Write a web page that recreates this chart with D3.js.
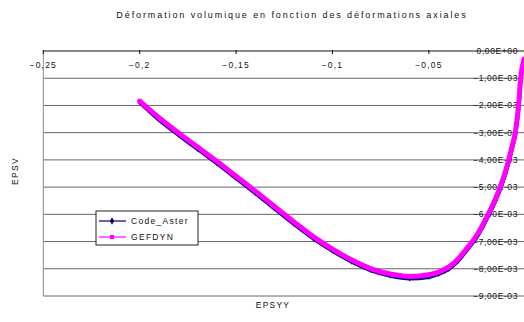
<!DOCTYPE html>
<html>
<head>
<meta charset="utf-8">
<script src="https://cdn.jsdelivr.net/npm/d3@7"></script>
<style>
  body { margin: 0; background: #fff; }
  text { font-family: "Liberation Sans", Arial, sans-serif; fill: #111; }
</style>
</head>
<body>
<svg id="chart" width="524" height="322"></svg>
<script>
(function () {

    // axial strain (EPSYY) and volumic strain (EPSV, x1e-3)
    const epsyy = [-0.200, -0.190, -0.180, -0.170, -0.160, -0.150, -0.140, -0.130, -0.120, -0.110,
        -0.100, -0.090, -0.080, -0.070, -0.060, -0.050, -0.045, -0.040, -0.035, -0.030,
        -0.025, -0.020, -0.015, -0.010, -0.007, -0.005, -0.0035, -0.0024, -0.0007];

    const gefdyn = [-1.84, -2.45, -3.00, -3.53, -4.05, -4.60, -5.15, -5.72, -6.28, -6.82,
        -7.28, -7.68, -8.00, -8.19, -8.28, -8.22, -8.12, -7.95, -7.65, -7.22,
        -6.75, -6.10, -5.35, -4.35, -3.55, -2.90, -2.00, -1.00, -0.30];

    const codeAster = [-1.88, -2.52, -3.07, -3.60, -4.12, -4.67, -5.22, -5.79, -6.35, -6.88,
        -7.34, -7.74, -8.06, -8.26, -8.36, -8.30, -8.19, -8.02, -7.72, -7.28,
        -6.82, -6.17, -5.42, -4.43, -3.62, -2.97, -2.06, -1.06, -0.36];

    const xTicks = [-0.25, -0.2, -0.15, -0.1, -0.05];
    const yTicks = [0, -0.001, -0.002, -0.003, -0.004, -0.005, -0.006, -0.007, -0.008, -0.009];

    const series = [
        { name: "Code_Aster", color: "#000080", values: codeAster, marker: d3.symbolDiamond },
        { name: "GEFDYN", color: "#ff00ff", values: gefdyn, marker: d3.symbolSquare }
    ];

    const svg = d3.select('#chart');

    const x = d3.scaleLinear().domain([-0.25, 0]).range([43.3, 525.3]);
    const y = d3.scaleLinear().domain([-0.009, 0]).range([296, 51]);

    // excel style 0,00E+00
    const sci = v => {
        const s = d3.format(".2e")(v);
        const [m, e] = s.split("e");
        const sign = e[0] === "-" ? "-" : "+";
        const digits = e.replace(/[+-]/, "").padStart(2, "0");
        return m.replace(".", ",") + "E" + sign + digits;
    };

    svg.append('text')
        .attr('x', 292).attr('y', 18)
        .attr('text-anchor', 'middle')
        .style('font-size', '9px')
        .style('letter-spacing', '1.9px')
        .text('Déformation volumique en fonction des déformations axiales');

    // gridlines
    svg.append('g')
        .selectAll('line')
        .data(yTicks.slice(1))
        .enter()
        .append('line')
        .attr('x1', x(-0.25)).attr('x2', 524)
        .attr('y1', d => y(d)).attr('y2', d => y(d))
        .attr('stroke', '#666');

    // left border
    svg.append('line')
        .attr('x1', x(-0.25)).attr('x2', x(-0.25))
        .attr('y1', y(0)).attr('y2', y(-0.009))
        .attr('stroke', '#8a8a8a');

    // x axis at top (y = 0)
    const xAxis = svg.append('g').attr('transform', `translate(0,${y(0)})`);
    xAxis.append('line')
        .attr('x1', x(-0.25)).attr('x2', 524)
        .attr('stroke', '#111');
    xAxis.selectAll('line.tick')
        .data(xTicks)
        .enter()
        .append('line')
        .attr('class', 'tick')
        .attr('x1', d => x(d)).attr('x2', d => x(d))
        .attr('y1', -1).attr('y2', 3)
        .attr('stroke', '#111');
    xAxis.selectAll('text')
        .data(xTicks)
        .enter()
        .append('text')
        .attr('x', d => x(d)).attr('y', 17)
        .attr('text-anchor', 'middle')
        .style('font-size', '8.5px')
        .style('letter-spacing', '1.2px')
        .text(d => d3.format("~g")(d).replace(".", ","));

    // y labels, drawn over the gridlines near x = 0
    svg.append('g')
        .selectAll('text')
        .data(yTicks)
        .enter()
        .append('text')
        .attr('x', 518).attr('y', d => y(d) + 3)
        .attr('text-anchor', 'end')
        .style('font-size', '8.5px')
        .style('letter-spacing', '0.6px')
        .text(d => sci(d));

    // curves
    const line = d3.line()
        .x((d, i) => x(epsyy[i]))
        .y(d => y(d * 1e-3))
        .curve(d3.curveMonotoneX);

    series.forEach((s, k) => {
        svg.append('path')
            .datum(s.values)
            .attr('d', line)
            .attr('fill', 'none')
            .attr('stroke', s.color)
            .attr('stroke-width', k === 0 ? 4 : 5)
            .attr('stroke-linejoin', 'round')
            .attr('stroke-linecap', 'round');
        svg.append('g')
            .selectAll('path')
            .data(s.values)
            .enter()
            .append('path')
            .attr('transform', (d, i) => `translate(${x(epsyy[i])},${y(d * 1e-3)})`)
            .attr('d', d3.symbol().type(s.marker).size(k === 0 ? 10 : 14))
            .attr('fill', s.color);
    });

    // axis titles
    svg.append('text')
        .attr('transform', 'translate(18,171) rotate(-90)')
        .attr('text-anchor', 'middle')
        .style('font-size', '8.5px')
        .style('letter-spacing', '1.3px')
        .text('EPSV');

    svg.append('text')
        .attr('x', 273).attr('y', 308)
        .attr('text-anchor', 'middle')
        .style('font-size', '8.5px')
        .style('letter-spacing', '1.2px')
        .text('EPSYY');

    // legend
    const legend = svg.append('g').attr('transform', 'translate(96,211)');
    legend.append('rect')
        .attr('width', 102).attr('height', 34)
        .attr('fill', '#fff').attr('stroke', '#222');
    const rows = legend.selectAll('g')
        .data(series)
        .enter()
        .append('g')
        .attr('transform', (d, i) => `translate(0,${10 + i * 16})`);
    rows.append('line')
        .attr('x1', 3).attr('x2', 30)
        .attr('stroke', d => d.color)
        .attr('stroke-width', 1.2);
    rows.append('path')
        .attr('transform', 'translate(16,0)')
        .attr('d', d => d3.symbol().type(d.marker).size(16)())
        .attr('fill', d => d.color);
    rows.append('text')
        .attr('x', 35).attr('y', 3)
        .style('font-size', '8.5px')
        .style('letter-spacing', '1.3px')
        .text(d => d.name);

})();
</script>
</body>
</html>
